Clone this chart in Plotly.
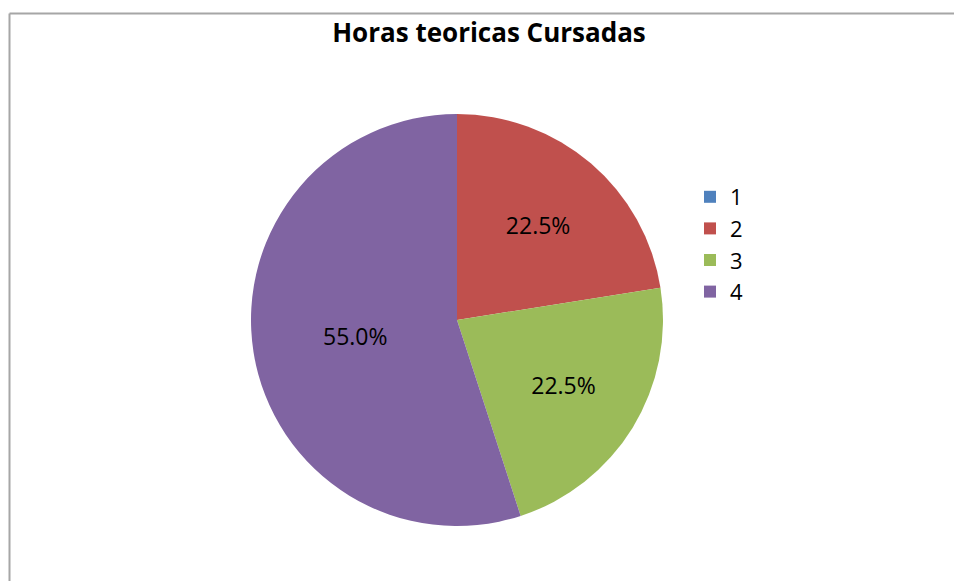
import plotly.graph_objects as go

labels = ["1", "2", "3", "4"]
values = [0, 9, 9, 22]
colors = ["#4F81BD", "#C0504D", "#9BBB59", "#8064A2"]
title = "Horas teoricas Cursadas"

W, H = 954, 581
cx, cy, r = 457, 320, 206

texttemplates = ["" if v == 0 else "%{percent:.1%}" for v in values]

fig = go.Figure(go.Pie(
    labels=labels,
    values=values,
    sort=False,
    direction="clockwise",
    rotation=0,
    marker=dict(colors=colors, line=dict(width=0)),
    texttemplate=texttemplates,
    textposition="inside",
    insidetextorientation="horizontal",
    textfont=dict(family="Open Sans, sans-serif", size=23, color="#000000"),
    domain=dict(x=[(cx - r) / W, (cx + r) / W], y=[1 - (cy + r) / H, 1 - (cy - r) / H]),
    hoverinfo="label+value+percent",
))

fig.update_layout(
    width=W, height=H,
    margin=dict(l=0, r=0, t=0, b=0),
    paper_bgcolor="white",
    title=dict(text="<b>" + title + "</b>", x=489 / W, xanchor="center", y=1 - 33 / H, yanchor="middle",
               font=dict(family="Open Sans, sans-serif", size=26, color="#000000")),
    legend=dict(x=690 / W, y=1 - 176 / H, xanchor="left", yanchor="top",
                font=dict(family="Open Sans, sans-serif", size=22, color="#000000"),
                itemwidth=30, tracegroupgap=0, bgcolor="rgba(0,0,0,0)"),
    shapes=[
        dict(type="line", xref="paper", yref="paper", x0=9.5 / W, x1=1.0, y0=1 - 13.5 / H, y1=1 - 13.5 / H,
             line=dict(color="#a6a6a6", width=2)),
        dict(type="line", xref="paper", yref="paper", x0=9.5 / W, x1=9.5 / W, y0=0, y1=1 - 13.5 / H,
             line=dict(color="#a6a6a6", width=2)),
    ],
)

fig.write_html("out.html", config={"displayModeBar": False},
               post_script="document.body.style.margin='0';document.body.style.overflow='hidden';")
